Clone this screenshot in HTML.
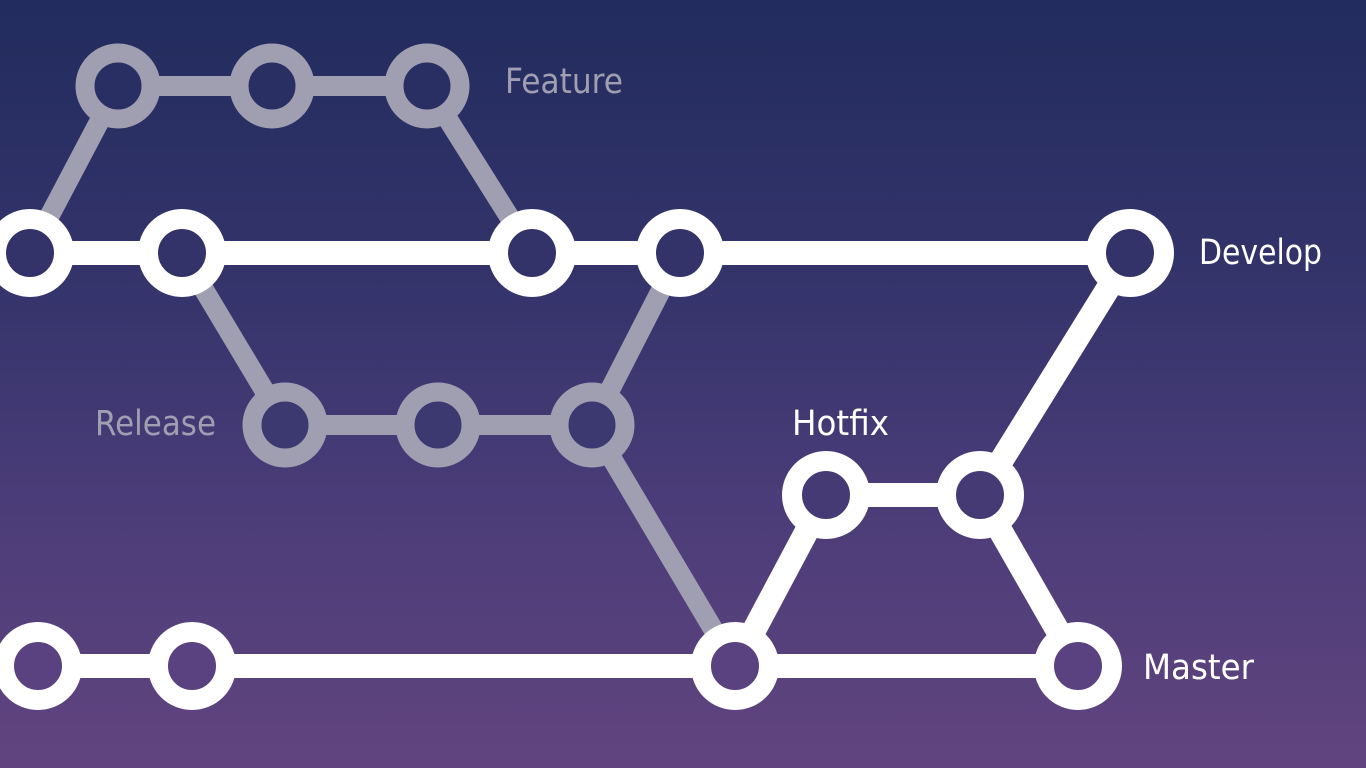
<!DOCTYPE html>
<html><head><meta charset="utf-8"><style>
html,body{margin:0;padding:0;width:1366px;height:768px;overflow:hidden}
body{background:linear-gradient(to bottom,#222c5e 0%,#33336a 35%,#4a3c78 65%,#61447f 100%)}
svg{display:block}
text{font-family:"DejaVu Sans","Liberation Sans",sans-serif;font-size:35px}
</style></head><body>
<svg width="1366" height="768" viewBox="0 0 1366 768">
<g stroke="#a09fb2" stroke-width="20" fill="none">
<line x1="30" y1="253" x2="118" y2="86"/>
<line x1="118" y1="86" x2="427" y2="86"/>
<line x1="427" y1="86" x2="532" y2="253"/>
<line x1="182" y1="253" x2="285" y2="425"/>
<line x1="285" y1="425" x2="592" y2="425"/>
<line x1="592" y1="425" x2="680" y2="253"/>
<line x1="592" y1="425" x2="735" y2="666"/>
</g>
<g stroke="#a09fb2" stroke-width="19" fill="#2a2f63">
<circle cx="118" cy="86" r="33"/><circle cx="272" cy="86" r="33"/><circle cx="427" cy="86" r="33"/>
</g>
<g stroke="#a09fb2" stroke-width="19" fill="#3c3870">
<circle cx="285" cy="425" r="33"/><circle cx="438" cy="425" r="33"/><circle cx="592" cy="425" r="33"/>
</g>
<g stroke="#ffffff" stroke-width="24" fill="none">
<line x1="0" y1="253" x2="1130" y2="253"/>
<line x1="38" y1="666" x2="1078" y2="666"/>
<line x1="735" y1="666" x2="826" y2="495"/>
<line x1="826" y1="495" x2="980" y2="495"/>
<line x1="980" y1="495" x2="1130" y2="253"/>
<line x1="980" y1="495" x2="1078" y2="666"/>
</g>
<g stroke="#ffffff" stroke-width="20" fill="#33336a">
<circle cx="30" cy="253" r="34"/><circle cx="182" cy="253" r="34"/><circle cx="532" cy="253" r="34"/><circle cx="680" cy="253" r="34"/><circle cx="1130" cy="253" r="34"/>
</g>
<g stroke="#ffffff" stroke-width="20" fill="#463a75">
<circle cx="826" cy="495" r="34"/><circle cx="980" cy="495" r="34"/>
</g>
<g stroke="#ffffff" stroke-width="20" fill="#5a4280">
<circle cx="38" cy="666" r="34"/><circle cx="192" cy="666" r="34"/><circle cx="735" cy="666" r="34"/><circle cx="1078" cy="666" r="34"/>
</g>
<text x="505" y="93" fill="#a09fb2" textLength="118" lengthAdjust="spacingAndGlyphs">Feature</text>
<text x="1199" y="264" fill="#ffffff" textLength="123" lengthAdjust="spacingAndGlyphs">Develop</text>
<text x="95" y="435" fill="#a09fb2" textLength="121" lengthAdjust="spacingAndGlyphs">Release</text>
<text x="792" y="435" fill="#ffffff" textLength="97" lengthAdjust="spacingAndGlyphs">Hotfix</text>
<text x="1143" y="679" fill="#ffffff" textLength="111" lengthAdjust="spacingAndGlyphs">Master</text>
</svg>
</body></html>
